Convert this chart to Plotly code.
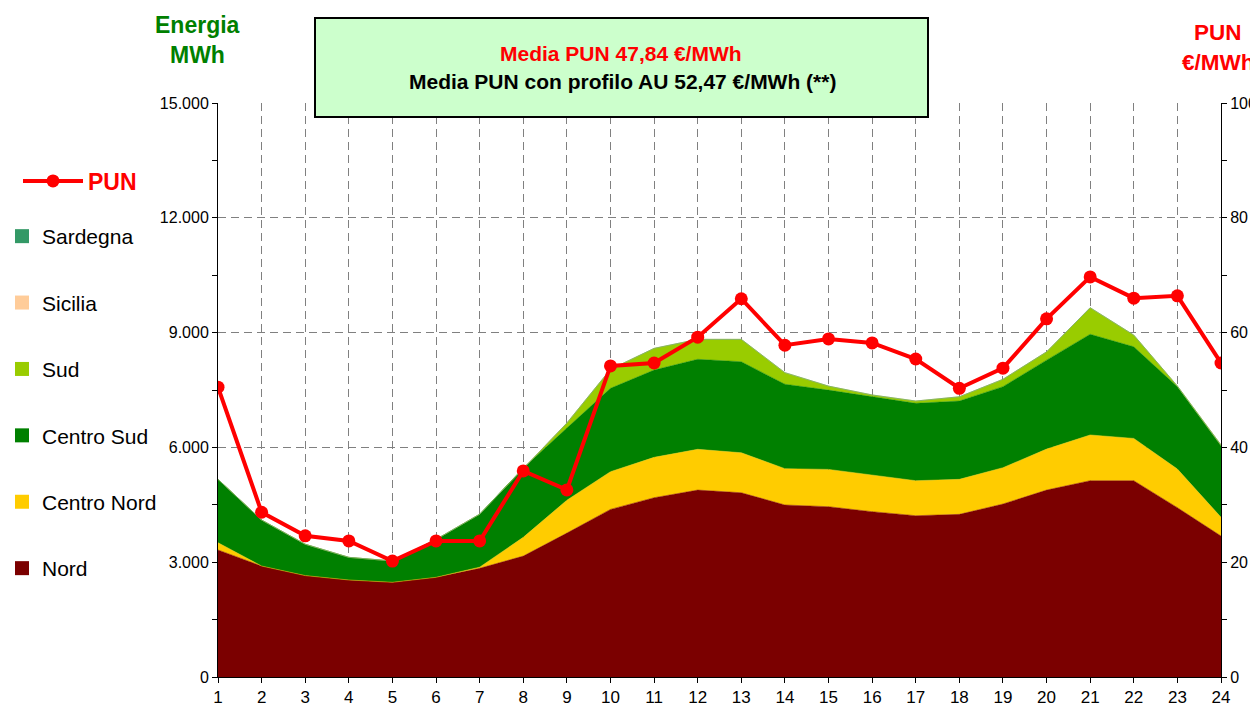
import plotly.graph_objects as go

# ---------------- data ----------------
hours = list(range(1, 25))
nord = [3320, 2900, 2650, 2535, 2475, 2605, 2840, 3160, 3760, 4380, 4685, 4885,
        4815, 4495, 4450, 4320, 4215, 4250, 4520, 4885, 5130, 5130, 4425, 3685]
centro_nord = [190, 0, 0, 0, 0, 0, 30, 490, 860, 985, 1055, 1065,
               1045, 950, 975, 960, 915, 915, 950, 1070, 1195, 1105, 1010, 490]
centro_sud = [1656, 1202, 820, 592, 556, 990, 1385, 1810, 1886, 2179, 2281, 2352,
              2378, 2205, 2072, 2046, 2022, 2046, 2117, 2325, 2631, 2394, 2151, 1863]
sud = [0, 0, 0, 0, 0, 0, 0, 0, 131, 496, 567, 522,
       585, 304, 105, 45, 60, 112, 193, 217, 695, 306, 18, 26]
sicilia = [0] * 24
sardegna = [0] * 24
pun = [50.5, 28.7, 24.6, 23.7, 20.2, 23.7, 23.7, 35.9, 32.6, 54.2, 54.7, 59.2,
       65.9, 57.8, 58.9, 58.2, 55.4, 50.3, 53.8, 62.4, 69.7, 66.0, 66.4, 54.7]

zone_names = ["Nord", "Centro Nord", "Centro Sud", "Sud", "Sicilia", "Sardegna"]
zone_values = [nord, centro_nord, centro_sud, sud, sicilia, sardegna]
zone_colors = ["#7B0000", "#FFCC00", "#008000", "#99CC00", "#FFCC99", "#339966"]

FONT = "Liberation Sans, Arial, sans-serif"

# ---------------- figure ----------------
# the page body adds an 8px margin, so the figure is 8px smaller and
# all positions below are given in page pixels
OFF = 8
W, H = 1258 - OFF, 711 - OFF
PLOT_L, PLOT_R, PLOT_T, PLOT_B = 218, 1221, 103, 677   # page pixels
ML, MT = PLOT_L - OFF, PLOT_T - OFF
PW, PH = PLOT_R - PLOT_L, PLOT_B - PLOT_T
MR, MB = W - ML - PW, H - MT - PH


def px(xp):
    return (xp - PLOT_L) / PW


def py(yp):
    return (PLOT_B - yp) / PH


fig = go.Figure()

for name, vals, col in zip(zone_names, zone_values, zone_colors):
    fig.add_trace(go.Scatter(
        x=hours, y=vals, name=name, mode="lines", stackgroup="one",
        line=dict(width=0.5, color=col), fillcolor=col, showlegend=False,
        hoverinfo="x+y+name"))

# legend-only entries (square symbols like the original)
for name, col in reversed(list(zip(zone_names, zone_colors))):
    fig.add_trace(go.Scatter(
        x=[None], y=[None], name=name, mode="markers",
        marker=dict(symbol="square", size=14, color=col),
        legendgroup=name, showlegend=True, legend="legend"))

fig.add_trace(go.Scatter(
    x=hours, y=pun, name="<b><span style='color:#FF0000'>PUN</span></b>",
    mode="lines+markers", yaxis="y2",
    line=dict(color="#FF0000", width=4),
    marker=dict(color="#FF0000", size=13),
    legend="legend2"))

grid = dict(gridcolor="#808080", gridwidth=1, griddash="8px,5px")

fig.update_layout(
    width=W, height=H, autosize=False,
    margin=dict(l=ML, r=MR, t=MT, b=MB, autoexpand=False),
    paper_bgcolor="white", plot_bgcolor="white",
    separators=",.",
    font=dict(family=FONT, size=16, color="black"),
    xaxis=dict(range=[1, 24], tick0=1, dtick=1, ticks="outside", ticklen=5,
               tickcolor="black", showline=True, linecolor="black", linewidth=1,
               showgrid=True, zeroline=False, tickfont=dict(size=17), **grid),
    yaxis=dict(range=[0, 15000], dtick=3000, tickformat=",d", ticks="outside",
               ticklen=5, tickcolor="black", showline=True, linecolor="black",
               linewidth=1, zeroline=False, showgrid=True,
               minor=dict(dtick=1500, ticks="outside", ticklen=5,
                          tickcolor="black", showgrid=False), **grid),
    yaxis2=dict(range=[0, 100], dtick=20, overlaying="y", side="right",
                ticks="outside", ticklen=5, tickcolor="black", showline=True,
                linecolor="black", linewidth=1, showgrid=False, zeroline=False,
                minor=dict(dtick=10, ticks="outside", ticklen=5,
                           tickcolor="black")),
    legend=dict(x=px(2), y=py(216), xanchor="left", yanchor="top",
                traceorder="grouped", tracegroupgap=36.1,
                font=dict(size=21, family=FONT), bgcolor="rgba(0,0,0,0)",
                itemwidth=30),
    legend2=dict(x=px(18), y=py(181), xanchor="left", yanchor="middle",
                 font=dict(size=23, family=FONT), bgcolor="rgba(0,0,0,0)",
                 itemwidth=60),
    showlegend=True,
)

# info box
fig.add_shape(type="rect", xref="paper", yref="paper",
              x0=px(315), x1=px(928), y0=py(117), y1=py(18),
              fillcolor="#CCFFCC", line=dict(color="black", width=2),
              layer="above")

ann = [
    ("<b>Energia</b>", 197, 25, "#008000", 23),
    ("<b>MWh</b>", 197, 55, "#008000", 23),
    ("<b>PUN</b>", 1218, 33, "#FF0000", 22.5),
    ("<b>€/MWh</b>", 1218, 63, "#FF0000", 22.5),
    ("<b>Media PUN 47,84 €/MWh</b>", 621, 53, "#FF0000", 21),
    ("<b>Media PUN con profilo AU 52,47 €/MWh (**)</b>", 622, 81, "black", 21),
]
for text, x, y, col, size in ann:
    fig.add_annotation(text=text, xref="paper", yref="paper", x=px(x), y=py(y),
                       xanchor="center", yanchor="middle", showarrow=False,
                       font=dict(family=FONT, size=size, color=col))

fig.write_html("out.html")
